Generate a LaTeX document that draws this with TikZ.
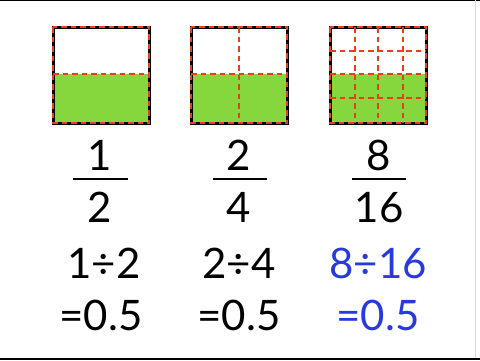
\documentclass[tikz,border=0pt]{standalone}
\usepackage{fontspec}
\setmainfont{Lato}
\definecolor{cellgreen}{RGB}{134,214,62}
\definecolor{cutred}{RGB}{232,62,28}
\definecolor{qblue}{RGB}{38,58,222}
\def\bignum#1{{\fontsize{42}{48}\selectfont #1}}

\begin{document}
\begin{tikzpicture}[x=1pt,y=-1pt,
   cut/.style={cutred,line width=2.2pt,dash pattern=on 5.5pt off 4pt},
   rim/.style={black,line width=3pt},
   num/.style={anchor=base,inner sep=0pt},
   bar/.style={line width=2.5pt}]
\useasboundingbox (0,0) rectangle (480,360);
\fill[white] (0,0) rectangle (480,360);
\draw[black,line width=1.5pt] (0,0.5) -- (480,0.5);
\draw[black,line width=2pt] (0,359) -- (480,359);
\draw[black!15,line width=1pt] (475,0) -- (475,358);
%
% the three squares
\foreach \x/\n in {53/1,191/2,330/4}{
   \fill[cellgreen] (\x,74) rectangle (\x+96,123);
   \draw[rim] (\x,27) rectangle (\x+96,123);
   \draw[cut] (\x,27) rectangle (\x+96,123);
   \draw[cut] (\x,74) -- (\x+96,74);
}
\draw[cut] (239,27) -- (239,123);
\foreach \c in {355,378,403} \draw[cut] (\c,27) -- (\c,123);
\foreach \r in {51,98} \draw[cut] (330,\r) -- (426,\r);
%
% fractions
\node[num] at (100,170) (n1) {\bignum{1}};
\node[num] at (100,222) (d1) {\bignum{2}};
\node[num] at (239,170) (n2) {\bignum{2}};
\node[num] at (239,222) (d2) {\bignum{4}};
\node[num] at (379,170) (n3) {\bignum{8}};
\node[num] at (379,222) (d3) {\bignum{16}};
\draw[bar] (73,179) -- (128,179);
\draw[bar] (213,179) -- (267,179);
\draw[bar] (352,179) -- (406,179);
%
% divisions
\node[num] at (104,278) (q1) {\bignum{1÷2}};
\node[num] at (239,278) (q2) {\bignum{2÷4}};
\node[num,text=qblue] at (378,278) (q3) {\bignum{8÷16}};
\node[num] at (101,330) (r1) {\bignum{=0.5}};
\node[num] at (239,330) (r2) {\bignum{=0.5}};
\node[num,text=qblue] at (378,330) (r3) {\bignum{=0.5}};
\end{tikzpicture}
\end{document}
